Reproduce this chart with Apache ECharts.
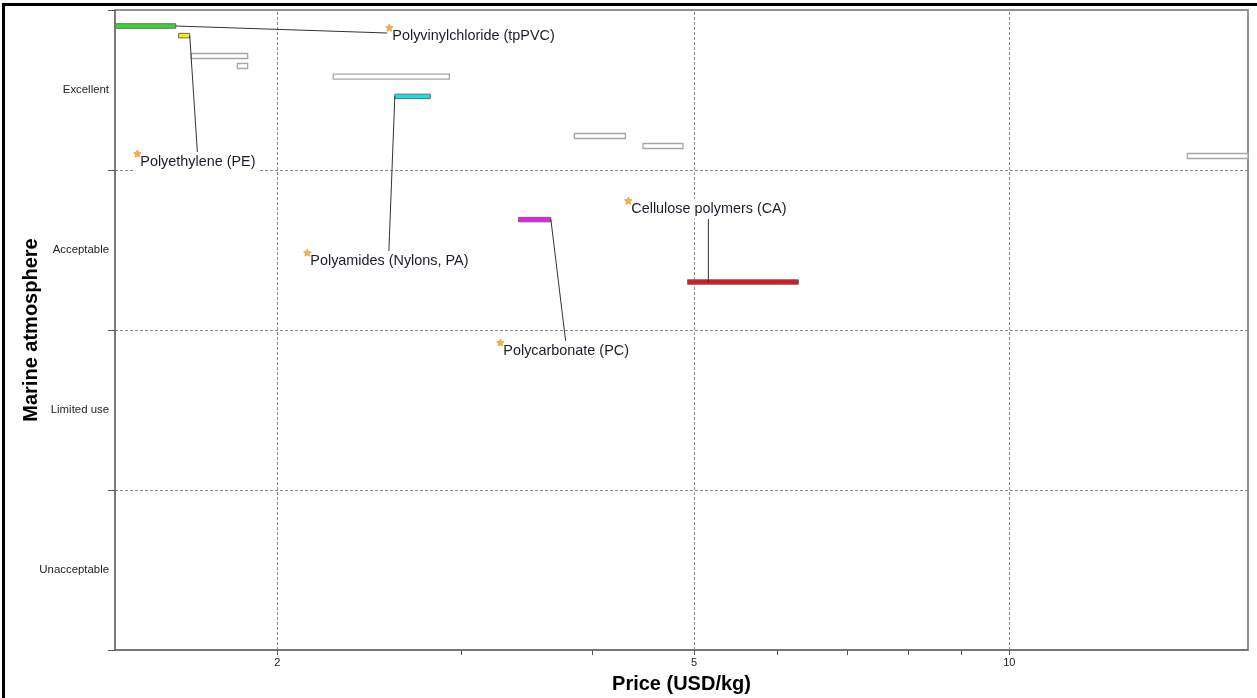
<!DOCTYPE html>
<html>
<head>
<meta charset="utf-8">
<script src="https://cdn.jsdelivr.net/npm/echarts@6/dist/echarts.min.js"></script>
<style>
  html, body { margin: 0; padding: 0; background: #fff; }
  #chart { width: 1257px; height: 698px; }
</style>
</head>
<body>
<div id="chart"></div>
<script>
// Rating bands on the vertical axis (bottom to top)
const ratingBands = ['Unacceptable', 'Limited use', 'Acceptable', 'Excellent'];

// Price axis ticks (log scale) and the ones that carry a label
const priceTicks = [2, 3, 4, 5, 6, 7, 8, 9, 10];
const priceLabels = [2, 5, 10];

// Highlighted materials: price range (USD/kg) and rating position
const namedMaterials = ['Polyvinylchloride (tpPVC)', 'Polyethylene (PE)', 'Polyamides (Nylons, PA)', 'Polycarbonate (PC)', 'Cellulose polymers (CA)'];
const namedPriceLow  = [1.40, 1.61, 2.59, 3.40, 4.93];
const namedPriceHigh = [1.60, 1.65, 2.80, 3.65, 6.29];
const namedRating    = [3.90, 3.84, 3.46, 2.69, 2.30];
const namedColors    = ['#2fdc2f', '#f5f000', '#14e0ea', '#f018f0', '#e4121a'];

// Where each material's label sits (price, rating)
const labelPrice  = [2.576, 1.480, 2.151, 3.288, 4.356];
const labelRating = [3.8375, 3.05, 2.431, 1.869, 2.756];

// Other materials in the selection
const otherPriceLow  = [1.655, 1.832, 2.262, 3.843, 4.47, 14.79];
const otherPriceHigh = [1.874, 1.874, 2.920, 4.300, 4.88, 17.5];
const otherRating    = [3.7125, 3.65, 3.584, 3.2125, 3.15, 3.0875];

const chart = echarts.init(document.getElementById('chart'), null, { renderer: 'canvas' });

const FONT_FAMILY = '"Liberation Sans", Arial, sans-serif';
const LABEL_FONT = '14.4px ' + FONT_FAMILY;
const measureCtx = document.createElement('canvas').getContext('2d');
measureCtx.font = LABEL_FONT;

function clipToGrid(rect, cs) {
  return echarts.graphic.clipRectByRect(rect, { x: cs.x, y: cs.y, width: cs.width, height: cs.height });
}

function starPoints(cx, cy, r, r0) {
  const pts = [];
  for (let i = 0; i < 10; i++) {
    const rr = i % 2 === 0 ? r : r0;
    const a = -Math.PI / 2 + i * Math.PI / 5;
    pts.push([cx + rr * Math.cos(a), cy + rr * Math.sin(a)]);
  }
  return pts;
}

function rangeBar(fill, stroke, h, lw) {
  return function (params, api) {
    const p0 = api.coord([api.value(0), api.value(2)]);
    const p1 = api.coord([api.value(1), api.value(2)]);
    const shape = clipToGrid({ x: p0[0], y: p0[1] - h / 2, width: p1[0] - p0[0], height: h }, params.coordSys);
    if (!shape) return null;
    return {
      type: 'rect', shape,
      style: { fill: fill || api.visual('color'), stroke, lineWidth: lw }
    };
  };
}

const option = {
  animation: false,
  backgroundColor: '#fff',
  graphic: [{
    type: 'rect', silent: true, z: 100,
    shape: { x: 3.5, y: 4.5, width: 1400, height: 900 },
    style: { fill: 'none', stroke: '#000', lineWidth: 3 }
  }],
  grid: {
    left: 115, right: 9, top: 10, bottom: 48,
    outerBoundsMode: 'none', containLabel: false,
    show: true, borderColor: '#707070', borderWidth: 1.5, backgroundColor: 'transparent'
  },
  xAxis: [{
    type: 'log', logBase: 10, min: 1.4, max: 16.9,
    name: 'Price (USD/kg)', nameLocation: 'middle', nameGap: 24, nameMoveOverlap: false,
    nameTextStyle: { fontFamily: FONT_FAMILY, fontWeight: 'bold', fontSize: 20, color: '#000' },
    axisLine: { show: true, lineStyle: { color: '#707070', width: 1.5 } },
    axisTick: { show: true, customValues: priceTicks, length: 5, lineStyle: { color: '#555' } },
    axisLabel: { customValues: priceLabels, fontSize: 11, color: '#222', margin: 7, fontFamily: FONT_FAMILY },
    splitLine: { show: false },
    minorTick: { show: false },
    minorSplitLine: { show: false }
  }],
  yAxis: [{
    type: 'category', data: ratingBands, boundaryGap: true,
    name: 'Marine atmosphere', nameLocation: 'middle', nameGap: 74, nameMoveOverlap: false,
    nameTextStyle: { fontFamily: FONT_FAMILY, fontWeight: 'bold', fontSize: 20, color: '#000' },
    axisLine: { show: true, lineStyle: { color: '#707070', width: 1.5 } },
    axisTick: { show: true, length: 7, lineStyle: { color: '#555' } },
    axisLabel: { fontSize: 11.4, color: '#222', margin: 6, fontFamily: FONT_FAMILY },
    splitLine: { show: true, lineStyle: { color: '#8a8a8a', type: [3, 2], width: 1 } }
  }, {
    type: 'value', min: 0, max: 4, show: false
  }],
  series: [
    {
      // unnamed materials, drawn as open bars; also carries the price grid lines
      type: 'custom', xAxisIndex: 0, yAxisIndex: 1, z: 3,
      data: otherPriceLow.map((lo, i) => [lo, otherPriceHigh[i], otherRating[i]]),
      encode: { x: [0, 1], y: 2 },
      renderItem: rangeBar('#fff', '#a6a6a6', 5, 1.3),
      markLine: {
        silent: true, symbol: 'none', z: 1,
        label: { show: false },
        lineStyle: { color: '#8a8a8a', type: [3, 2], width: 1 },
        data: priceLabels.map(v => ({ xAxis: v }))
      }
    },
    {
      // highlighted materials
      type: 'custom', xAxisIndex: 0, yAxisIndex: 1, z: 4,
      data: namedPriceLow.map((lo, i) => ({
        value: [lo, namedPriceHigh[i], namedRating[i]],
        itemStyle: { color: namedColors[i] }
      })),
      encode: { x: [0, 1], y: 2 },
      renderItem: rangeBar(null, '#6a6a6a', 4.5, 1)
    },
    {
      // labels with leader lines
      type: 'custom', xAxisIndex: 0, yAxisIndex: 1, z: 6, clip: false,
      data: namedMaterials.map((n, i) => [namedPriceLow[i], namedPriceHigh[i], namedRating[i], labelPrice[i], labelRating[i], i]),
      encode: { x: [0, 1, 3], y: [2, 4] },
      renderItem(params, api) {
        const i = api.value(5);
        const text = namedMaterials[i];
        const barLo = api.coord([api.value(0), api.value(2)]);
        const barHi = api.coord([api.value(1), api.value(2)]);
        const cs = params.coordSys;
        const lo = Math.max(barLo[0], cs.x);
        const hi = Math.min(barHi[0], cs.x + cs.width);
        const barY = barLo[1];
        const anchor = api.coord([api.value(3), api.value(4)]);
        const ax = anchor[0], ay = anchor[1];
        const w = measureCtx.measureText(text).width;
        const box = { x: ax - 5, y: ay - 10, width: w + 9, height: 20 };
        let end;
        if (hi < box.x) {
          end = [box.x, ay - 3];
        } else if (ay > barY) {
          end = [box.x + box.width / 2, box.y];
        } else {
          end = [box.x + box.width / 2, box.y + box.height];
        }
        const start = [Math.min(Math.max(end[0], lo), hi), barY];
        return {
          type: 'group',
          children: [
            { type: 'line', shape: { x1: start[0], y1: start[1], x2: end[0], y2: end[1] },
              style: { stroke: '#333', lineWidth: 1 } },
            { type: 'rect', shape: box, style: { fill: '#fff' } },
            { type: 'polygon', shape: { points: starPoints(ax - 3, ay - 8, 4, 1.8) },
              style: { fill: '#f6b24a', stroke: '#e08a1e', lineWidth: 0.6 } },
            { type: 'text', x: ax, y: ay,
              style: { text, font: LABEL_FONT, fill: '#1c1c28', align: 'left', verticalAlign: 'middle' } }
          ]
        };
      }
    }
  ]
};

chart.setOption(option);
</script>
</body>
</html>
